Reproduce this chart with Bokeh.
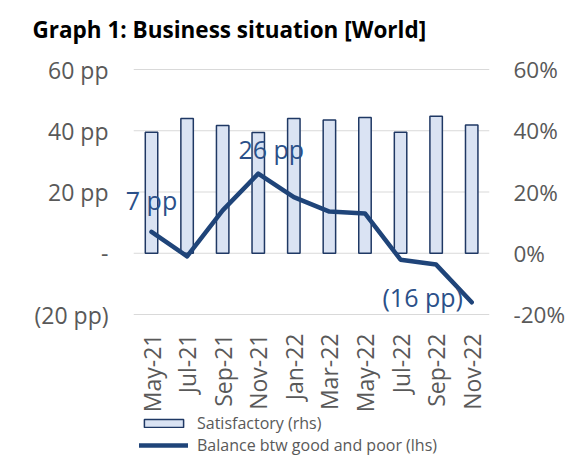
import math
from bokeh.plotting import figure
from bokeh.models import (ColumnDataSource, Range1d, LinearAxis, FixedTicker,
                          NumeralTickFormatter, Legend, LegendItem)
from bokeh.embed import file_html
from bokeh.resources import INLINE
from bokeh.core.properties import value

# ---- data ----
months = ["May-21", "Jul-21", "Sep-21", "Nov-21", "Jan-22",
          "Mar-22", "May-22", "Jul-22", "Sep-22", "Nov-22"]
satisfactory_pct = [39.5, 44.0, 41.7, 39.4, 44.0, 43.5, 44.3, 39.5, 44.7, 41.9]
balance_pp = [7, -1, 14, 26, 18.3, 13.6, 13, -2.1, -3.7, -16]
left_ticks = [-20, 0, 20, 40, 60]
left_tick_labels = ["(20 pp)", "-", "20 pp", "40 pp", "60 pp"]
right_ticks = [-0.2, 0.0, 0.2, 0.4, 0.6]
label_months = ["May-21", "Nov-21", "Nov-22"]
label_values = [7, 26, -16]
label_texts = ["7 pp", "26 pp", "(16 pp)"]
# label styling (pixel offsets)
label_dx = [0, 13, -49]
label_dy = [-32, -25, -5]

FONT = "Open Sans"
GRAY = "#595959"
NAVY = "#1f4479"

n = len(months)
xs = list(range(n))
ymin, ymax = left_ticks[0], left_ticks[-1]
# frame extends beyond the outer gridlines (room for month labels / legend)
pad_below, pad_above = 48.0, 4.9
src = ColumnDataSource(dict(x=xs, sat=[v / 100 for v in satisfactory_pct],
                            bal=balance_pp, m=months, base=[ymin] * n))
lab = ColumnDataSource(dict(x=[months.index(m) for m in label_months],
                            v=label_values, t=label_texts,
                            dx=label_dx, dy=label_dy))
grid_src = ColumnDataSource(dict(x0=[-0.5] * len(left_ticks),
                                 x1=[n - 0.5] * len(left_ticks),
                                 y=left_ticks))

p = figure(x_range=Range1d(-0.9, n - 0.5),
           y_range=Range1d(ymin - pad_below, ymax + pad_above),
           width=582, height=461, output_backend="svg", toolbar_location=None,
           x_axis_location=None,
           min_border_left=119, min_border_right=93, min_border_top=54,
           min_border_bottom=0, background_fill_color="white",
           border_fill_color="white", outline_line_color=None)
p.extra_y_ranges = {"pct": Range1d((ymin - pad_below) / 100, (ymax + pad_above) / 100)}

p.title.text = "Graph 1: Business situation [World]"
p.title.text_font = FONT
p.title.text_font_size = "22.5px"
p.title.text_font_style = "bold"
p.title.text_color = "black"
p.title.align = "left"
p.title.offset = -87
p.title.standoff = 20

# left axis
la = p.yaxis[0]
la.ticker = FixedTicker(ticks=left_ticks)
la.major_label_overrides = {t: s for t, s in zip(left_ticks, left_tick_labels)}
# right axis
ra = LinearAxis(y_range_name="pct", ticker=FixedTicker(ticks=right_ticks),
                formatter=NumeralTickFormatter(format="0%"))
p.add_layout(ra, "right")

for ax in [la, ra]:
    ax.axis_line_color = None
    ax.major_tick_line_color = None
    ax.minor_tick_line_color = None
    ax.major_label_text_font = FONT
    ax.major_label_text_font_size = "23px"
    ax.major_label_text_color = GRAY
ra.major_label_text_font_size = "22.5px"
la.major_label_standoff = 5
ra.major_label_standoff = 18

p.xgrid.grid_line_color = None
p.ygrid.grid_line_color = None

p.segment(x0="x0", x1="x1", y0="y", y1="y", source=grid_src,
          line_color="#d9d9d9", line_width=1)
bars = p.vbar(x="x", top="sat", bottom=0, width=0.35, source=src,
              y_range_name="pct", fill_color="#dae3f3",
              line_color="#1f3864", line_width=1.5)
line = p.line(x="x", y="bal", source=src, line_color=NAVY, line_width=4.5,
              line_join="round", line_cap="round")
p.text(x="x", y="v", text="t", x_offset="dx", y_offset="dy", source=lab,
       text_font=value(FONT), text_font_size="25px", text_color="#2b5089",
       text_align="center", text_baseline="middle")
# month (category) labels
p.text(x="x", y="base", text="m", source=src, angle=math.pi / 2,
       y_offset=19, text_font=value(FONT), text_font_size="23px",
       text_color=GRAY, text_align="right", text_baseline="middle")

legend = Legend(items=[LegendItem(label="Satisfactory (rhs)", renderers=[bars]),
                       LegendItem(label="Balance btw good and poor (lhs)", renderers=[line])],
                location=(20, 5.5), padding=0, margin=0, spacing=0,
                glyph_width=49, glyph_height=10, label_height=21,
                label_text_font=FONT, label_text_font_size="16px",
                label_text_color=GRAY, label_standoff=9,
                border_line_color=None, background_fill_alpha=0)
p.add_layout(legend, "center")

open("out.html", "w").write(file_html(p, INLINE))
